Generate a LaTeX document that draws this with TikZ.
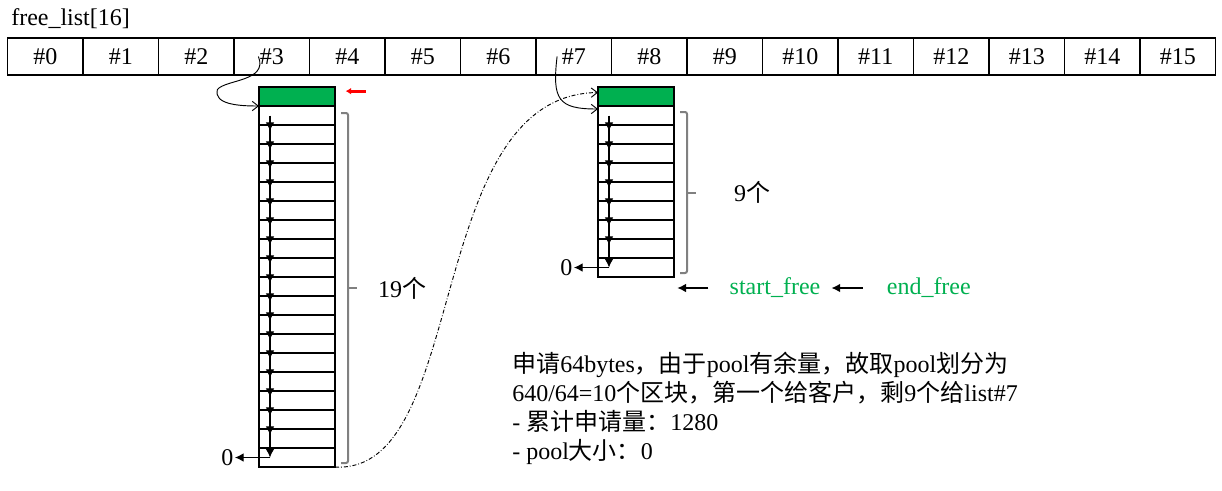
\documentclass[tikz,border=0pt]{standalone}
\usepackage{fontspec}
\setmainfont{Liberation Serif}
\newfontfamily\cjk{Noto Sans CJK SC}
\usetikzlibrary{positioning,arrows.meta,calc}
\definecolor{blockgreen}{HTML}{00B050}
\definecolor{bracegray}{HTML}{808080}
\newcommand\zhtxt[1]{{\cjk #1}}

\tikzset{
  slot/.style={draw, line width=0.9pt, minimum width=56.625pt, minimum height=27.75pt, inner sep=0pt, outer sep=0pt},
  chunk/.style={draw, line width=0.8pt, minimum width=57pt, minimum height=14.25pt, inner sep=0pt, outer sep=0pt},
  headchunk/.style={chunk, fill=blockgreen},
  link/.style={-{Latex[length=6.5pt,width=6.5pt]}, line width=0.8pt},
  hook/.style={-{Straight Barb[length=4.5pt,width=7pt]}, line width=0.7pt},
  bracket/.style={draw=bracegray, line width=1.5pt, rounded corners=1.5pt},
  lbl/.style={inner sep=1pt},
  freeptr/.style={text=blockgreen, inner sep=0pt},
}

\begin{document}
\begin{tikzpicture}[x=0.75pt, y=-0.75pt, font=\fontsize{18}{21.6}\selectfont]
  \useasboundingbox (0,0) rectangle (1222,490);

  % free list array
  \node[anchor=base west, inner sep=0pt] (title) at (11,25) {free\_list[16]};
  \node[slot] (s0) at (45.25,56.5) {\#0};
  \foreach \i [remember=\i as \j (initially 0)] in {1,...,15}
    \node[slot, right=0pt of s\j] (s\i) {\#\i};

  % chunk columns
  \node[headchunk] (a0) at (297,96.5) {};
  \foreach \i [remember=\i as \j (initially 0)] in {1,...,19}
    \node[chunk, below=0pt of a\j] (a\i) {};
  \node[headchunk] (b0) at (636,96.5) {};
  \foreach \i [remember=\i as \j (initially 0)] in {1,...,9}
    \node[chunk, below=0pt of b\j] (b\i) {};
  \foreach \k in {3,7,11,15}
    \draw[line width=1.5pt] (a\k.south west) -- (a\k.south east);
  \foreach \k in {3,7}
    \draw[line width=1.5pt] (b\k.south west) -- (b\k.south east);

  \node[lbl, left=18pt of a19] (z1) {0};
  \node[lbl, left=18pt of b9] (z2) {0};

  % next pointers
  \draw[link] ([xshift=8.25pt]a1.west) -- ([xshift=8.25pt,yshift=-4.5pt]a2.north west);
  \foreach \i [evaluate=\i as \j using int(\i+1)] in {2,...,17}
    \draw[link] ([xshift=8.25pt,yshift=-2.25pt]a\i.north west) -- ([xshift=8.25pt,yshift=-4.5pt]a\j.north west);
  \draw[link] ([xshift=8.25pt,yshift=-2.25pt]a18.north west) -- ([xshift=8.25pt]a19.west);
  \draw[link] ([xshift=8.25pt]a19.west) -- (z1);

  \draw[link] ([xshift=8.25pt]b1.west) -- ([xshift=8.25pt,yshift=-4.5pt]b2.north west);
  \foreach \i [evaluate=\i as \j using int(\i+1)] in {2,...,7}
    \draw[link] ([xshift=8.25pt,yshift=-2.25pt]b\i.north west) -- ([xshift=8.25pt,yshift=-4.5pt]b\j.north west);
  \draw[link] ([xshift=8.25pt,yshift=-2.25pt]b8.north west) -- ([xshift=8.25pt]b9.west);
  \draw[link] ([xshift=8.25pt]b9.west) -- (z2);

  % list heads
  \draw[hook] ([xshift=-10pt]s3.center) .. controls +(10,25) and +(8,-10) .. ++(-41,33)
    .. controls +(-4,15) and +(-20,0) .. (a0.south west);
  \draw[hook] ([xshift=-12.5pt]s7.center) .. controls +(-5,43) and +(-40,0) .. ([yshift=-2.25pt]b1.north west);
  \draw[hook, dash pattern=on 3pt off 1.5pt on 0.6pt off 1.5pt] (a19.south east)
    .. controls +(135,8) and +(-175,3) .. ([yshift=3pt]b0.west);
  \draw[red, line width=2.2pt, -{Latex[length=4pt,width=5pt]}] ([xshift=23pt,yshift=4pt]a0.east) -- ([xshift=8pt,yshift=4pt]a0.east);

  % counts
  \coordinate (lt) at ([xshift=4.5pt,yshift=-5.25pt]a1.north east);
  \coordinate (lb) at ([xshift=4.5pt,yshift=3pt]a19.south east);
  \draw[bracket] (lt) -- ++(7,0) |- (lb);
  \draw[bracket] ($(lt)!0.5!(lb)+(7,0)$) -- ++(9,0) node[right=15pt, inner sep=0pt] (n19) {19\zhtxt{个}};
  \coordinate (rt) at ([xshift=4.5pt,yshift=-4.5pt]b1.north east);
  \coordinate (rb) at ([xshift=4.5pt,yshift=3pt]b9.south east);
  \draw[bracket] (rt) -- ++(7,0) |- (rb);
  \draw[bracket] ($(rt)!0.5!(rb)+(7,0)$) -- ++(9,0) node[right=27.75pt, inner sep=0pt] (n9) {9\zhtxt{个}};

  % pool pointers
  \node[freeptr] (sf) at (775,288) {start\_free};
  \node[freeptr, right=49.5pt of sf] (ef) {end\_free};
  \draw[link] ([xshift=-15.75pt]sf.west) -- ([xshift=-39pt]sf.west);
  \draw[link] ([xshift=-18pt]ef.west) -- ([xshift=8.25pt]sf.east);

  % note
  \node[anchor=base west, inner sep=0pt] (note1) at (512,372)
    {\zhtxt{申请}64bytes\zhtxt{，由于}pool\zhtxt{有余量，故取}pool\zhtxt{划分为}};
  \node[anchor=base west, inner sep=0pt] (note2) at ([yshift=-21.75pt]note1.base west)
    {640/64=10\zhtxt{个区块，第一个给客户，剩}9\zhtxt{个给}list\#7};
  \node[anchor=base west, inner sep=0pt] (note3) at ([yshift=-21.75pt]note2.base west)
    {- \zhtxt{累计申请量：}1280};
  \node[anchor=base west, inner sep=0pt] (note4) at ([yshift=-21.75pt]note3.base west)
    {- pool\zhtxt{大小：}0};
\end{tikzpicture}
\end{document}
